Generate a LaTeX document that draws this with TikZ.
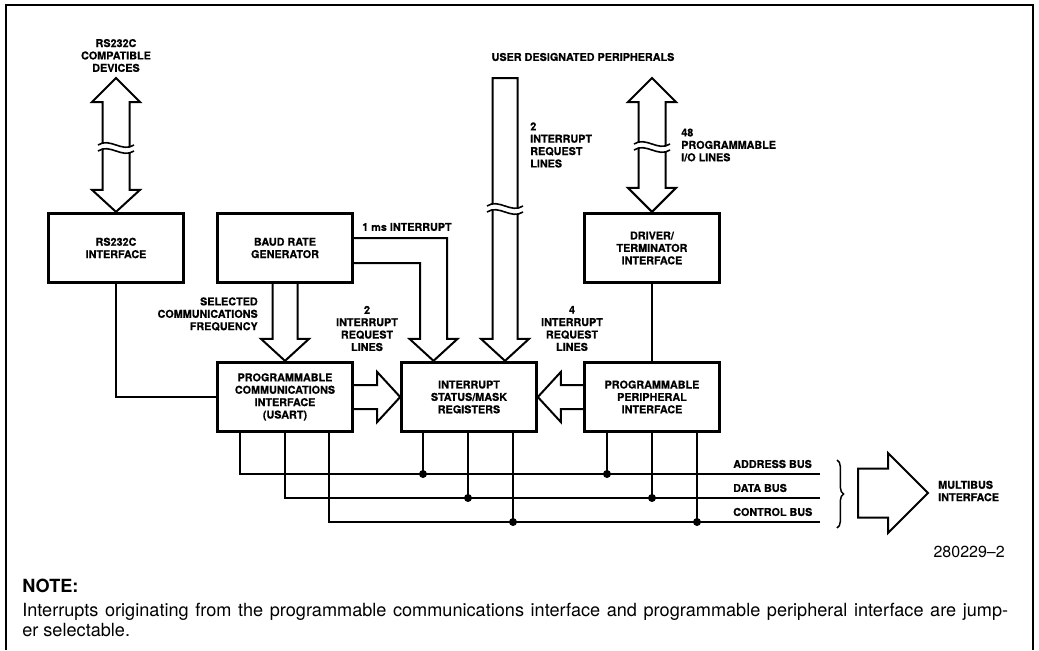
\documentclass[tikz,border=0pt]{standalone}
\usepackage{fontspec}
\setmainfont{TeX Gyre Heros}
\newfontfamily\heavyfont{TeX Gyre Heros}[BoldFeatures={FakeBold=0.6}]
\usetikzlibrary{calc,decorations.pathreplacing}
\newcommand\lblfont{\heavyfont\fontsize{8.1}{9.3}\selectfont\bfseries}
\newcommand\notefont{\fontsize{13.6}{15}\selectfont}
\tikzset{
  gapmark/.pic={
    \fill[white] (-18,-3) .. controls (-6,-11) and (6,5) .. (18,-3) -- (18,3) .. controls (6,11) and (-6,-5) .. (-18,3) -- cycle;
    \draw[line width=1.2pt] (-18,-3) .. controls (-6,-11) and (6,5) .. (18,-3);
    \draw[line width=1.2pt] (-18,3) .. controls (-6,-5) and (6,11) .. (18,3);
  }
}

\begin{document}
\begin{tikzpicture}[x=0.75pt, y=-0.75pt,
  block/.style={draw, line width=2.2pt, minimum width=101pt, minimum height=52pt, inner sep=0pt, align=center, font=\lblfont},
  lbl/.style={inner sep=0pt, align=center, font=\lblfont},
  fat/.style={line width=1.5pt, line join=miter},
  wire/.style={line width=1.2pt}]
  \useasboundingbox (0,0) rectangle (1039,650);
  \draw[line width=1pt] (6,650) -- (6,5) -- (1033,5) -- (1033,650);

  \node[block] (rsif) at (116,248) {RS232C\\INTERFACE};
  \node[block] (baud) at (285,248) {BAUD RATE\\GENERATOR};
  \node[block] (drv) at (652,248) {DRIVER/\\TERMINATOR\\INTERFACE};
  \node[block] (usart) at (285,397) {PROGRAMMABLE\\COMMUNICATIONS\\INTERFACE\\(USART)};
  \node[block] (isr) at (469,397) {INTERRUPT\\STATUS/MASK\\REGISTERS};
  \node[block] (ppi) at (652,397) {PROGRAMMABLE\\PERIPHERAL\\INTERFACE};

  \node[lbl] (rsdev) at (116,55.5) {RS232C\\COMPATIBLE\\DEVICES};
  \node[lbl] (usrlbl) at (583,57) {USER DESIGNATED PERIPHERALS};
  \node[lbl, align=left, anchor=west] (irqtop) at (530,145) {2\\INTERRUPT\\REQUEST\\LINES};
  \node[lbl, align=left, anchor=west] (iolbl) at (681,145) {48\\PROGRAMMABLE\\I/O LINES};
  \node[lbl, anchor=west] (mslbl) at (362,227) {1 ms INTERRUPT};
  \node[lbl, align=right, anchor=east] (freq) at (258,314) {SELECTED\\COMMUNICATIONS\\FREQUENCY};
  \node[lbl] (irqleft) at (367,328.5) {2\\INTERRUPT\\REQUEST\\LINES};
  \node[lbl] (irqright) at (572,328.5) {4\\INTERRUPT\\REQUEST\\LINES};

  \coordinate (rstop) at (116,78);
  \coordinate (iotop) at (652,78);
  \coordinate (usrtop) at (505,78);
  \coordinate (usrin) at ($(isr.north)+(36,0)$);
  \coordinate (baudin) at ($(isr.north)+(-35.5,0)$);

  \draw[fat] (rstop) -- ($(rstop)+(24,24)$) -- ($(rstop)+(13.5,24)$) -- ($(rsif.north)+(13.5,-22)$) -- ($(rsif.north)+(24,-22)$) -- (rsif.north) -- ($(rsif.north)+(-24,-22)$) -- ($(rsif.north)+(-13.5,-22)$) -- ($(rstop)+(-13.5,24)$) -- ($(rstop)+(-24,24)$) -- cycle;
  \pic at (116,148) {gapmark};
  \draw[fat] (iotop) -- ($(iotop)+(24,24)$) -- ($(iotop)+(13.5,24)$) -- ($(drv.north)+(13.5,-24)$) -- ($(drv.north)+(24,-24)$) -- (drv.north) -- ($(drv.north)+(-24,-24)$) -- ($(drv.north)+(-13.5,-24)$) -- ($(iotop)+(-13.5,24)$) -- ($(iotop)+(-24,24)$) -- cycle;
  \pic at (652,147) {gapmark};
  \draw[fat] ($(usrtop)+(-12.5,0)$) -- ($(usrtop)+(12.5,0)$) -- ($(usrin)+(12.5,-22)$) -- ($(usrin)+(24,-22)$) -- (usrin) -- ($(usrin)+(-24,-22)$) -- ($(usrin)+(-12.5,-22)$) -- cycle;
  \pic at (505,209) {gapmark};

  \draw[fat] ($(baud.south)+(-12.5,0)$) -- ($(usart.north)+(-12.5,-22)$) -- ($(usart.north)+(-24,-22)$) -- (usart.north) -- ($(usart.north)+(24,-22)$) -- ($(usart.north)+(12.5,-22)$) -- ($(baud.south)+(12.5,0)$);
  \draw[fat] ($(baud.east)+(0,15)$) -| ($(baudin)+(-13.5,-22)$) -- ($(baudin)+(-24,-22)$) -- (baudin) -- ($(baudin)+(24,-22)$) -- ($(baudin)+(13.5,-22)$) |- ($(baud.east)+(0,-10)$);
  \draw[fat] ($(usart.east)+(0,-12)$) -- ($(isr.west)+(-23,-12)$) -- ($(isr.west)+(-23,-25)$) -- (isr.west) -- ($(isr.west)+(-23,25)$) -- ($(isr.west)+(-23,12)$) -- ($(usart.east)+(0,12)$);
  \draw[fat] ($(ppi.west)+(0,-12)$) -- ($(isr.east)+(23,-12)$) -- ($(isr.east)+(23,-25)$) -- (isr.east) -- ($(isr.east)+(23,25)$) -- ($(isr.east)+(23,12)$) -- ($(ppi.west)+(0,12)$);

  \draw[wire] (rsif.south) |- (usart.west);
  \draw[wire] (drv.south) -- (ppi.north);

  \coordinate (abus) at (820,474);
  \coordinate (dbus) at (820,498);
  \coordinate (cbus) at (820,522);
  \draw[wire] ($(usart.south)+(-45,0)$) |- (abus);
  \draw[wire] (usart.south) |- (dbus);
  \draw[wire] ($(usart.south)+(44,0)$) |- (cbus);
  \foreach \b/\dx/\bus in {isr/-46/abus, isr/-1/dbus, isr/44/cbus, ppi/-45/abus, ppi/0/dbus, ppi/45/cbus} {
    \coordinate (t) at ($(\b.south)+(\dx,0)$);
    \draw[wire] (t) -- (t |- \bus);
    \fill (t |- \bus) circle (3pt);
  }
  \node[lbl, anchor=west] (alab) at (733,464) {ADDRESS BUS};
  \node[lbl, anchor=west] (dlab) at (733,488) {DATA BUS};
  \node[lbl, anchor=west] (clab) at (733,512) {CONTROL BUS};
  \draw[line width=1.1pt, decorate, decoration={brace, amplitude=5pt}] (837,460) -- (837,528);

  \coordinate (mbtip) at (928,493);
  \draw[fat] ($(mbtip)+(-70,-24.5)$) -- ($(mbtip)+(-40,-24.5)$) -- ($(mbtip)+(-40,-40)$) -- (mbtip) -- ($(mbtip)+(-40,40)$) -- ($(mbtip)+(-40,24.5)$) -- ($(mbtip)+(-70,24.5)$) -- cycle;
  \node[lbl, align=left, anchor=west] (mb) at (938,491) {MULTIBUS\\INTERFACE};

  \node[anchor=base east, inner sep=0pt, font=\fontsize{12}{14}\selectfont] (figno) at (1005,557) {280229\textendash 2};
  \node[anchor=base west, inner sep=0pt, font=\notefont\bfseries] (notehd) at (22,592) {NOTE:};
  \node[anchor=base west, inner sep=0pt, font=\notefont] (note1) at (22,616) {\makebox[739.5pt][s]{Interrupts originating from the programmable communications interface and programmable peripheral interface are jump-}};
  \node[anchor=base west, inner sep=0pt, font=\notefont] (note2) at (22,636) {er selectable.};
\end{tikzpicture}
\end{document}
